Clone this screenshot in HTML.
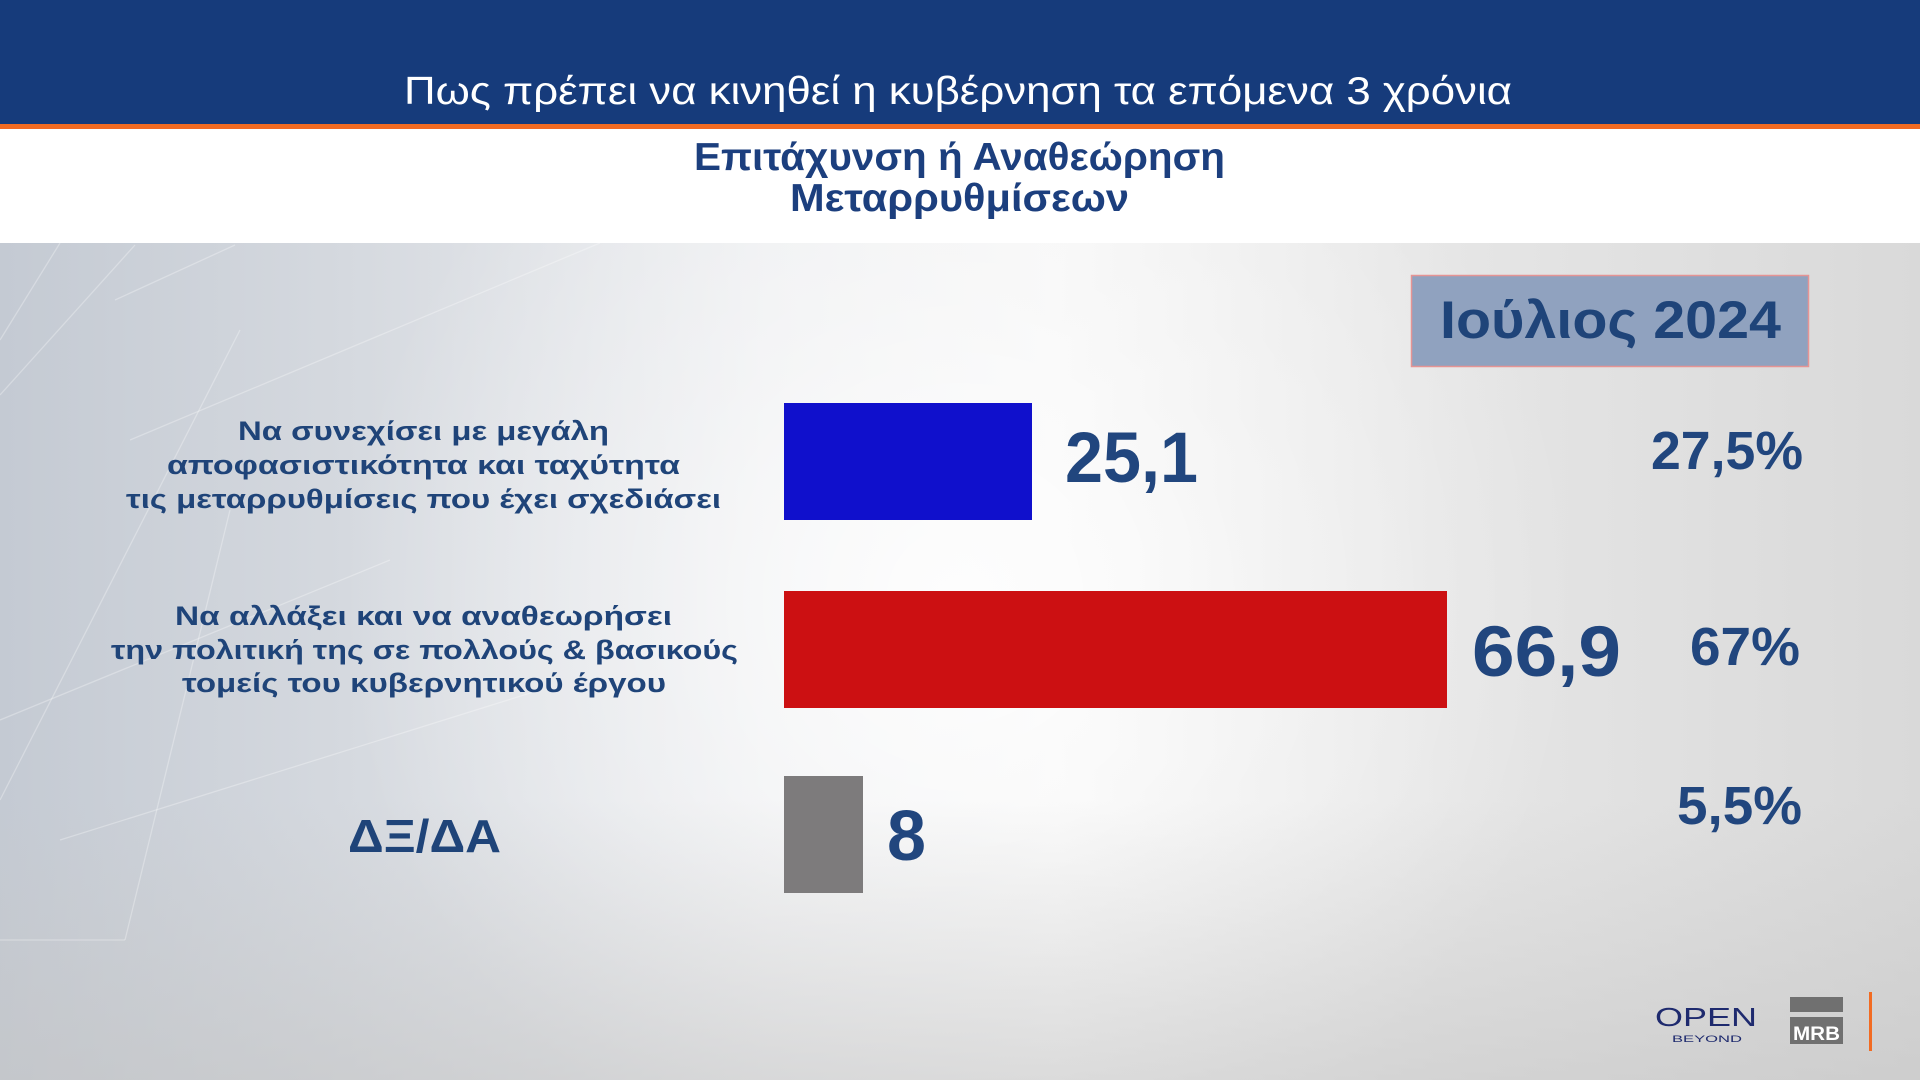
<!DOCTYPE html>
<html>
<head>
<meta charset="utf-8">
<style>
html,body{margin:0;padding:0;width:1920px;height:1080px;overflow:hidden;background:#fff;}
svg{display:block;}
text{font-family:"Liberation Sans","DejaVu Sans",sans-serif;}
</style>
</head>
<body>
<svg width="1920" height="1080" viewBox="0 0 1920 1080" xmlns="http://www.w3.org/2000/svg">
  <defs>
    <linearGradient id="bgH" x1="0" y1="0" x2="1" y2="0">
      <stop offset="0" stop-color="#c4cad3"/>
      <stop offset="0.18" stop-color="#d5d9df"/>
      <stop offset="0.4" stop-color="#eeeff1"/>
      <stop offset="0.55" stop-color="#f6f6f6"/>
      <stop offset="0.75" stop-color="#e6e6e6"/>
      <stop offset="1" stop-color="#d9d9d9"/>
    </linearGradient>
    <radialGradient id="glow" cx="960" cy="600" r="620" gradientUnits="userSpaceOnUse">
      <stop offset="0" stop-color="#ffffff" stop-opacity="0.85"/>
      <stop offset="0.5" stop-color="#ffffff" stop-opacity="0.35"/>
      <stop offset="1" stop-color="#ffffff" stop-opacity="0"/>
    </radialGradient>
    <linearGradient id="bottom" x1="0" y1="0" x2="0" y2="1">
      <stop offset="0" stop-color="#c8c8c8" stop-opacity="0"/>
      <stop offset="1" stop-color="#c4c4c4" stop-opacity="0.55"/>
    </linearGradient>
  </defs>

  <!-- main background -->
  <rect x="0" y="243" width="1920" height="837" fill="url(#bgH)"/>
  <rect x="0" y="243" width="1920" height="837" fill="url(#glow)"/>
  <rect x="0" y="800" width="1920" height="280" fill="url(#bottom)"/>

  <!-- decorative faint lines on the left -->
  <g stroke="#ffffff" stroke-opacity="0.3" stroke-width="1.3" fill="none">
    <line x1="0" y1="395" x2="135" y2="245"/>
    <line x1="60" y1="243" x2="0" y2="340"/>
    <line x1="235" y1="245" x2="115" y2="300"/>
    <line x1="0" y1="800" x2="240" y2="330"/>
    <line x1="130" y1="440" x2="600" y2="243"/>
    <line x1="230" y1="510" x2="125" y2="940"/>
    <line x1="0" y1="940" x2="125" y2="940"/>
    <line x1="60" y1="840" x2="540" y2="690"/>
    <line x1="0" y1="720" x2="390" y2="560"/>
  </g>

  <!-- header -->
  <rect x="0" y="0" width="1920" height="124" fill="#163b7b"/>
  <rect x="0" y="124" width="1920" height="5" fill="#f26b22"/>
  <rect x="0" y="129" width="1920" height="114" fill="#ffffff"/>

  <text x="404" y="104" font-size="39" fill="#ffffff" textLength="1108" lengthAdjust="spacingAndGlyphs">Πως πρέπει να κινηθεί η κυβέρνηση τα επόμενα 3 χρόνια</text>

  <text x="694" y="170" font-size="39" font-weight="bold" fill="#1c3f7e" textLength="531" lengthAdjust="spacingAndGlyphs">Επιτάχυνση ή Αναθεώρηση</text>
  <text x="790" y="211" font-size="39" font-weight="bold" fill="#1c3f7e" textLength="339" lengthAdjust="spacingAndGlyphs">Μεταρρυθμίσεων</text>

  <!-- date box -->
  <rect x="1411.5" y="275.5" width="397" height="91" fill="#90a2bf" stroke="#e59494" stroke-width="1.5"/>
  <text x="1440" y="338" font-size="53" font-weight="bold" fill="#1f4479" textLength="341" lengthAdjust="spacingAndGlyphs">Ιούλιος 2024</text>

  <!-- labels -->
  <g font-size="27" font-weight="bold" fill="#1f4479">
    <text x="238" y="440" textLength="371" lengthAdjust="spacingAndGlyphs">Να συνεχίσει με μεγάλη</text>
    <text x="167" y="474" textLength="513" lengthAdjust="spacingAndGlyphs">αποφασιστικότητα και ταχύτητα</text>
    <text x="126" y="508" textLength="595" lengthAdjust="spacingAndGlyphs">τις μεταρρυθμίσεις που έχει σχεδιάσει</text>

    <text x="175" y="625" textLength="497" lengthAdjust="spacingAndGlyphs">Να αλλάξει και να αναθεωρήσει</text>
    <text x="111" y="659" textLength="627" lengthAdjust="spacingAndGlyphs">την πολιτική της σε πολλούς &amp; βασικούς</text>
    <text x="182" y="692" textLength="484" lengthAdjust="spacingAndGlyphs">τομείς του κυβερνητικού έργου</text>
  </g>
  <text x="348" y="852" font-size="46" font-weight="bold" fill="#1f4479" textLength="153" lengthAdjust="spacingAndGlyphs">ΔΞ/ΔΑ</text>

  <!-- bars -->
  <rect x="784" y="403" width="248" height="117" fill="#1010cc"/>
  <rect x="784" y="591" width="663" height="117" fill="#cc1012"/>
  <rect x="784" y="776" width="79" height="117" fill="#7d7b7c"/>

  <!-- values -->
  <g font-size="71" font-weight="bold" fill="#21467e">
    <text x="1065" y="482" textLength="133" lengthAdjust="spacingAndGlyphs">25,1</text>
    <text x="1472" y="676" textLength="149" lengthAdjust="spacingAndGlyphs">66,9</text>
    <text x="887" y="860" textLength="39" lengthAdjust="spacingAndGlyphs">8</text>
  </g>
  <g font-size="54" font-weight="bold" fill="#21467e">
    <text x="1651" y="469" textLength="152" lengthAdjust="spacingAndGlyphs">27,5%</text>
    <text x="1690" y="665" textLength="110" lengthAdjust="spacingAndGlyphs">67%</text>
    <text x="1677" y="824" textLength="125" lengthAdjust="spacingAndGlyphs">5,5%</text>
  </g>

  <!-- logos -->
  <text x="1655" y="1026" font-size="26" fill="#1e2a6e" textLength="102" lengthAdjust="spacingAndGlyphs">OPEN</text>
  <text x="1672" y="1042" font-size="9" fill="#1e2a6e" textLength="70" lengthAdjust="spacingAndGlyphs">BEYOND</text>
  <rect x="1790" y="997" width="53" height="15" fill="#707070"/>
  <rect x="1790" y="1017" width="53" height="27" fill="#707070"/>
  <text x="1793" y="1040" font-size="19" font-weight="bold" fill="#ffffff" textLength="47" lengthAdjust="spacingAndGlyphs">MRB</text>
  <rect x="1869" y="992" width="3" height="59" fill="#f26b22"/>
</svg>
</body>
</html>
